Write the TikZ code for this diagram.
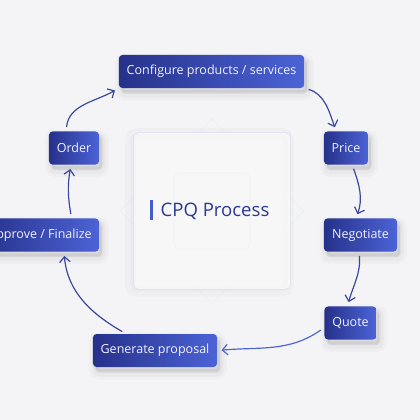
\documentclass[tikz,border=0pt]{standalone}
\usepackage{fontspec}
\setmainfont{Open Sans}
\usetikzlibrary{arrows.meta,shadows}
\definecolor{bgcol}{HTML}{F4F4F6}
\definecolor{boxa}{HTML}{26318A}
\definecolor{boxb}{HTML}{4C63D6}
\definecolor{boxtext}{HTML}{F0F2FF}
\definecolor{flowcol}{HTML}{3A479E}
\definecolor{flowlight}{HTML}{4C66D4}
\definecolor{framecol}{HTML}{D9DCF2}
\definecolor{titlecol}{HTML}{2B3990}

\begin{document}
\begin{tikzpicture}[x=0.025cm,y=0.025cm,
  soft/.style={
    general shadow={draw=black,fill=black,line width=10pt,opacity=0.018,shadow xshift=2pt,shadow yshift=-4pt},
    general shadow={draw=black,fill=black,line width=6pt,opacity=0.025,shadow xshift=2pt,shadow yshift=-4pt},
    general shadow={draw=black,fill=black,line width=2.5pt,opacity=0.035,shadow xshift=2pt,shadow yshift=-3pt}},
  box/.style={soft,rounded corners=2.5pt,left color=boxa,right color=boxb,text=boxtext,
    font=\fontsize{8.9}{10}\selectfont,minimum height=0.825cm,inner xsep=0pt},
  flow/.style={draw=flowcol,line width=0.85pt,-{Straight Barb[length=3.8pt,width=7.5pt]},
    shorten <=3pt,shorten >=3pt}]
\useasboundingbox[fill=bgcol] (0,0) rectangle (420,-420);
\draw[framecol!50,line width=0.4pt] (212,-119) -- (304,-211) -- (212,-303) -- (120,-211) -- cycle;
\node (frame) at (212,-211) [draw=framecol,fill=white,fill opacity=0.55,rounded corners=4pt,minimum size=3.93cm,
  general shadow={draw=black,fill=black,line width=8pt,opacity=0.02,shadow xshift=-2pt,shadow yshift=-1pt}]{};
\node (inner) at (212,-211) [draw=framecol!45,rounded corners=4pt,minimum size=1.9cm]{};
\node (title) at (215,-211) [text=titlecol,font=\fontsize{13.2}{15}\selectfont]{CPQ Process};
\node (bar) at (151.5,-210) [fill=boxb!85!boxa,minimum width=2.2pt,minimum height=0.52cm,inner sep=0pt]{};
\node (conf) at (211.5,-71.5) [box,minimum width=4.63cm]{Configure products / services};
\node (price) at (346,-148) [box,minimum width=1.1cm]{Price};
\node (nego) at (360.5,-235) [box,minimum width=1.83cm]{Negotiate};
\node (quote) at (350.5,-323) [box,minimum width=1.3cm]{Quote};
\node (gen) at (155,-350.5) [box,minimum width=3.1cm]{Generate proposal};
\node (approve) at (40,-235) [box,minimum width=2.95cm]{Approve / Finalize};
\node (order) at (74,-148) [box,minimum width=1.25cm]{Order};
\draw[flow] (conf.south east) to[out=-15,in=110] (price.120);
\draw[flow] (price.-70) to[out=-70,in=70] (nego.105);
\draw[flow] (nego.-95) to[out=-85,in=75] (quote.100);
\draw[flow,draw=flowlight] (quote.190) to[out=215,in=5] (gen.east);
\draw[flow] (gen.150) to[out=150,in=-85] (approve.-35);
\draw[flow] (approve.28) to[out=100,in=-100] (order.-100);
\draw[flow] (order.115) to[out=85,in=210] (conf.south west);
\end{tikzpicture}
\end{document}
